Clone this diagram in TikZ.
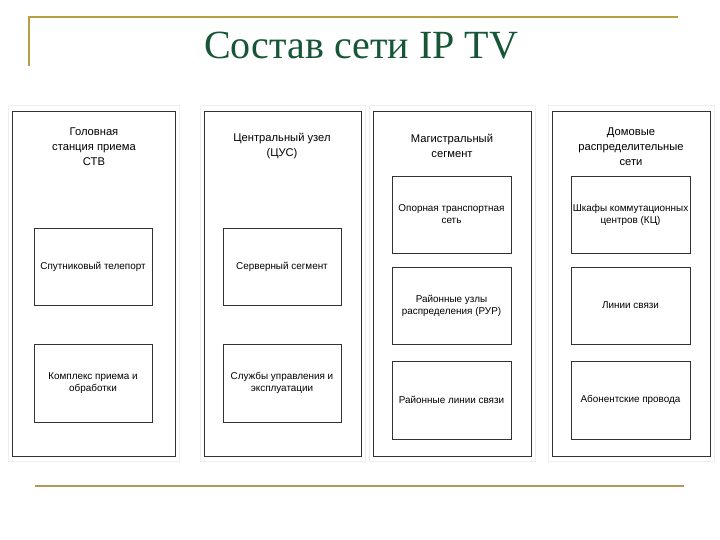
\documentclass[tikz,border=0pt]{standalone}
\usepackage{fontspec}
\setmainfont{Liberation Serif}
\newfontfamily\arialf{Liberation Sans}
\definecolor{titlegreen}{RGB}{22,86,54}
\definecolor{goldline}{RGB}{184,160,66}
\definecolor{tanline}{RGB}{182,152,92}
\definecolor{boxline}{RGB}{50,50,50}
\definecolor{faint}{RGB}{238,238,238}
\tikzset{
  colbox/.style={draw=boxline, line width=0.95pt, fill=white, inner sep=0pt},
  innerbox/.style={draw=boxline, line width=0.95pt, inner sep=0pt, minimum width=118pt, minimum height=77pt, align=center, font=\arialf\fontsize{9.9}{12}\selectfont},
  coltitle/.style={align=center, inner sep=0pt, font=\arialf\fontsize{11.2}{15}\selectfont},
  faintframe/.style={draw=faint, line width=0.7pt},
  rule/.style={line width=2.4pt}
}
\begin{document}
\begin{tikzpicture}[x=1pt,y=-1pt]
\useasboundingbox (0,0) rectangle (720,540);
\fill[white] (0,0) rectangle (720,540);
% decorative rules
\coordinate (tl) at (29,17);
\coordinate (tr) at (678,17);
\coordinate (tb) at (29,66);
\coordinate (bl) at (35,486);
\coordinate (br) at (684,486);
\draw[rule, goldline] (tb) -- (tl) -- (tr);
\draw[rule, tanline] (bl) -- (br);
% title
\node[text=titlegreen, font=\fontsize{40}{44}\selectfont, inner sep=0pt, anchor=base] (title) at (361,59) {Состав сети IP TV};
% faint frames
\draw[faintframe] (8,105) rectangle (179,461);
\draw[faintframe] (200,105) rectangle (365,461);
\draw[faintframe] (369,105) rectangle (535,461);
\draw[faintframe] (548,105) rectangle (714,461);
% columns
\node[colbox, minimum width=163pt, minimum height=345pt] (c1) at (93.5,283.5) {};
\node[colbox, minimum width=157pt, minimum height=345pt] (c2) at (282.5,283.5) {};
\node[colbox, minimum width=158pt, minimum height=345pt] (c3) at (452,283.5) {};
\node[colbox, minimum width=158pt, minimum height=345pt] (c4) at (631,283.5) {};
% column titles
\node[coltitle] (t1) at (94,147) {Головная\\станция приема\\СТВ};
\node[coltitle] (t2) at (282,146) {Центральный узел\\(ЦУС)};
\node[coltitle] (t3) at (452,146) {Магистральный\\сегмент};
\node[coltitle] (t4) at (631,147) {Домовые\\распределительные\\сети};
% inner boxes column 1
\node[innerbox] (a1) at (93,266.5) {Спутниковый телепорт};
\node[innerbox, minimum height=78pt] (a2) at (93,383) {Комплекс приема и\\обработки};
% column 2
\node[innerbox] (b1) at (282,266.5) {Серверный сегмент};
\node[innerbox, minimum height=78pt] (b2) at (282,383) {Службы управления и\\эксплуатации};
% column 3
\node[innerbox, minimum width=119pt] (d1) at (451.5,214.5) {Опорная транспортная\\сеть};
\node[innerbox, minimum width=119pt] (d2) at (451.5,305.5) {Районные узлы\\распределения (РУР)};
\node[innerbox, minimum width=119pt, minimum height=78pt] (d3) at (451.5,400) {Районные линии связи};
% column 4
\node[innerbox, minimum width=119pt] (e1) at (630.5,214.5) {Шкафы коммутационных\\центров (КЦ)};
\node[innerbox, minimum width=119pt] (e2) at (630.5,305.5) {Линии связи};
\node[innerbox, minimum width=119pt, minimum height=78pt] (e3) at (630.5,400) {Абонентские провода};
\end{tikzpicture}
\end{document}
